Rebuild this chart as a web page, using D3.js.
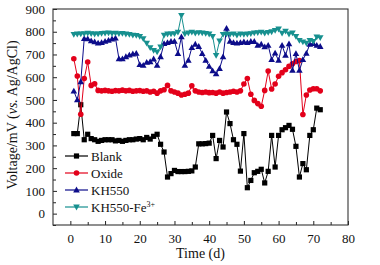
<!DOCTYPE html>
<html>
<head>
<meta charset="utf-8">
<script src="https://cdn.jsdelivr.net/npm/d3@7"></script>
<style>
  body { margin: 0; background: #fff; }
  svg text { font-family: "Liberation Serif", "Times New Roman", serif; }
</style>
</head>
<body>
<div id="chart"></div>
<script>
// days of measurement
const days = [1,2,3,4,5,6,7,8,9,10,11,12,13,14,15,16,17,18,19,20,21,22,23,24,25,26,27,28,29,30,31,32,33,34,35,36,
  37,38,39,40,41,42,43,44,45,46,47,48,49,50,51,52,53,54,55,56,57,58,59,60,61,62,63,64,65,66,67,68,69,70,71,72];

const blank = [352,352,479,325,349,330,325,318,322,325,325,325,320,322,318,322,325,325,328,330,325,335,328,340,349,305,
  271,161,176,190,185,185,185,186,188,205,307,307,308,310,344,242,322,293,447,396,325,305,187,352,114,146,180,186,195,
  135,186,344,205,344,369,378,388,371,296,161,220,193,344,369,464,457];

const oxide = [681,605,437,594,667,564,571,542,540,542,540,538,541,540,543,540,542,538,540,541,538,540,535,538,530,540,
  545,564,540,535,530,522,525,530,562,540,535,533,535,532,533,530,535,530,533,535,538,535,540,570,594,525,498,484,472,
  542,627,548,570,604,620,633,648,659,669,673,436,522,544,549,549,540];

const kh550 = [539,500,580,770,769,760,755,750,752,758,762,768,772,681,681,690,697,702,705,655,652,665,668,680,652,690,
  748,752,757,758,704,777,652,674,730,745,735,704,674,648,628,615,638,689,815,758,752,750,752,755,752,757,757,740,745,
  733,740,677,706,674,740,696,747,630,704,630,677,705,745,748,740,735];

const kh550fe = [788,790,791,792,794,792,790,791,793,794,795,793,794,792,793,790,788,785,784,780,770,750,730,718,711,733,
  785,790,791,792,798,872,791,795,798,794,796,795,793,790,780,696,760,788,790,788,791,785,790,788,790,792,795,796,798,
  794,797,800,806,812,794,803,790,795,780,762,755,750,762,758,777,774];

const xTicks = [0,10,20,30,40,50,60,70,80];
const yTicks = [0,100,200,300,400,500,600,700,800,900];

const series = [
  { name: "Blank", values: blank, color: "#000000", shape: "square" },
  { name: "Oxide", values: oxide, color: "#e3001a", shape: "circle" },
  { name: "KH550", values: kh550, color: "#0c0c8a", shape: "up" },
  { name: "KH550-Fe", values: kh550fe, color: "#17908f", shape: "down" }
];

const W = 380, H = 265;
const margin = { top: 9, right: 32, bottom: 40, left: 53 };
const width = W - margin.left - margin.right,
      height = H - margin.top - margin.bottom;

const svg = d3.select("#chart").append("svg")
  .attr("width", W).attr("height", H);

const g = svg.append("g")
  .attr("transform", `translate(${margin.left},${margin.top})`);

const x = d3.scaleLinear().domain([-5, 80]).range([0, width]);
const y = d3.scaleLinear().domain([-50, 900]).range([height, 0]);

// Ejes (ticks hacia dentro)
const xAxis = g.append("g")
  .attr("transform", `translate(0,${height})`)
  .call(d3.axisBottom(x).tickValues(xTicks).tickSizeInner(-4).tickSizeOuter(0).tickPadding(9));
const xMinor = g.append("g")
  .attr("transform", `translate(0,${height})`)
  .call(d3.axisBottom(x).tickValues(xTicks.slice(0, -1).map(d => d + 5)).tickSize(-3).tickFormat(""));

const yAxis = g.append("g")
  .call(d3.axisLeft(y).tickValues(yTicks).tickSizeInner(-4).tickSizeOuter(0).tickPadding(8));
const yMinor = g.append("g")
  .call(d3.axisLeft(y).tickValues(yTicks.map(d => d + 50).concat([-50]).filter(d => d < 900)).tickSize(-3).tickFormat(""));

[xAxis, xMinor, yAxis, yMinor].forEach(a => {
  a.select(".domain").remove();
  a.selectAll("line").attr("stroke", "#222");
  a.selectAll("text").attr("fill", "#111").style("font-size", "13px");
});

// Marco
g.append("rect")
  .attr("width", width).attr("height", height)
  .attr("fill", "none").attr("stroke", "#333").attr("stroke-width", 1.1);

// Etiquetas
svg.append("text")
  .attr("x", margin.left + width / 2)
  .attr("y", 258)
  .attr("text-anchor", "middle")
  .style("font-size", "14px")
  .attr("fill", "#111")
  .text("Time (d)");

const yt = svg.append("text")
  .attr("transform", `translate(17,${margin.top + height / 2 - 2}) rotate(-90)`)
  .attr("text-anchor", "middle")
  .style("font-size", "14px")
  .attr("fill", "#111");
yt.append("tspan").text("Voltage/mV (");
yt.append("tspan").style("font-style", "italic").text("vs.");
yt.append("tspan").text(" Ag/AgCl)");

function drawMarker(sel, shape, color, cx, cy) {
  if (shape === "square") {
    sel.append("rect").attr("x", cx - 2.6).attr("y", cy - 2.6).attr("width", 5.2).attr("height", 5.2).attr("fill", color);
  } else if (shape === "circle") {
    sel.append("circle").attr("cx", cx).attr("cy", cy).attr("r", 2.8).attr("fill", color);
  } else {
    const s = shape === "up" ? 1 : -1;
    sel.append("path")
      .attr("d", `M${cx},${cy - 3.4 * s}L${cx + 3.3},${cy + 2.4 * s}L${cx - 3.3},${cy + 2.4 * s}Z`)
      .attr("fill", color);
  }
}

const line = d3.line().x((d, i) => x(days[i])).y(d => y(d));

series.forEach(s => {
  g.append("path")
    .datum(s.values)
    .attr("fill", "none")
    .attr("stroke", s.color)
    .attr("stroke-width", 1)
    .attr("d", line);
  const mg = g.append("g");
  s.values.forEach((v, i) => drawMarker(mg, s.shape, s.color, x(days[i]), y(v)));
});

// Leyenda
const legend = svg.append("g");
series.forEach((s, i) => {
  const ly = 156 + i * 17;
  legend.append("line")
    .attr("x1", 65).attr("x2", 88).attr("y1", ly).attr("y2", ly)
    .attr("stroke", s.color).attr("stroke-width", 1.2);
  drawMarker(legend, s.shape, s.color, 76.5, ly);
  const t = legend.append("text")
    .attr("x", 91).attr("y", ly + 4.5)
    .style("font-size", "13px")
    .attr("fill", "#111")
    .text(s.name);
  if (s.name === "KH550-Fe") {
    t.append("tspan").attr("dy", -5).style("font-size", "8px").text("3+");
  }
});
</script>
</body>
</html>
